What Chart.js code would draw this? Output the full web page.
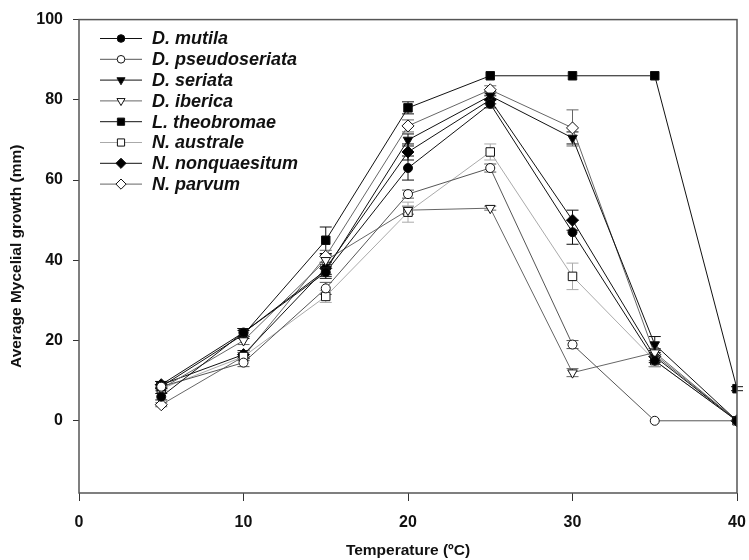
<!DOCTYPE html>
<html>
<head>
<meta charset="utf-8">
<script src="https://cdn.jsdelivr.net/npm/chart.js@4/dist/chart.umd.min.js"></script>
<style>
  html, body { margin: 0; padding: 0; background: #fff; }
  #wrap { width: 749px; height: 560px; }
</style>
</head>
<body>
<div id="wrap"><canvas id="chart" width="749" height="560"></canvas></div>
<script>
// Temperatures (ºC) at which growth was measured
const temps = [5, 10, 15, 20, 25, 30, 35, 40];

// Mean mycelial growth (mm) per isolate
const dMutila = [6, 22, 37, 63, 79, 47, 15, 0];
const dPseudoseriata = [8.5, 14.5, 33, 56.5, 63, 19, 0, 0];
const dSeriata = [9, 22, 37.5, 70, 81, 70.5, 19, 0];
const dIberica = [8, 20, 40, 52.5, 53, 12, 17, 0];
const lTheobromae = [8.5, 21.5, 45, 78, 86, 86, 86, 8];
const nAustrale = [8, 16, 31, 52, 67, 36, 15, 0];
const nNonquaesitum = [9, 16.5, 38, 67, 80, 50, 16, 0];
const nParvum = [4, 16, 41, 73.5, 82.5, 73, 16.5, 0];

// Standard errors
const errMutila = [0.8, 1, 1.5, 3, 1, 3, 1.5, 0];
const errPseudoseriata = [0.5, 1, 1.5, 1, 1, 1, 0, 0];
const errSeriata = [0.8, 1, 1.5, 1.5, 1, 1.5, 2, 0];
const errIberica = [0.5, 1, 1.5, 1, 0.5, 1, 1, 0];
const errTheobromae = [0.5, 1, 3.3, 1.5, 0, 0, 0, 0.5];
const errAustrale = [0.5, 1, 1.5, 2.5, 2, 3.3, 1.5, 0];
const errNonquaesitum = [0.8, 1, 1.5, 2, 1, 2.5, 1.5, 0];
const errParvum = [0.5, 1, 1.5, 1.5, 1, 4.5, 1.5, 0];

const labels = ['D. mutila', 'D. pseudoseriata', 'D. seriata', 'D. iberica',
  'L. theobromae', 'N. australe', 'N. nonquaesitum', 'N. parvum'];

const xTicks = [0, 10, 20, 30, 40];
const yTicks = [0, 20, 40, 60, 80, 100];

function series(label, values, errors, style) {
  return {
    label: label,
    data: temps.map((t, i) => ({ x: t, y: values[i] })),
    errors: errors,
    borderColor: style.line,
    borderWidth: 1,
    pointStyle: style.shape,
    rotation: style.rotation || 0,
    pointRadius: style.radius,
    pointBackgroundColor: style.fill,
    pointBorderColor: '#111',
    pointBorderWidth: 1,
    tension: 0,
    fill: false
  };
}

const datasets = [
  series(labels[0], dMutila, errMutila, { line: '#111', shape: 'circle', radius: 4.5, fill: '#000' }),
  series(labels[1], dPseudoseriata, errPseudoseriata, { line: '#555', shape: 'circle', radius: 4.5, fill: '#fff' }),
  series(labels[2], dSeriata, errSeriata, { line: '#111', shape: 'triangle', rotation: 180, radius: 5.5, fill: '#000' }),
  series(labels[3], dIberica, errIberica, { line: '#666', shape: 'triangle', rotation: 180, radius: 5.5, fill: '#fff' }),
  series(labels[4], lTheobromae, errTheobromae, { line: '#111', shape: 'rect', radius: 6, fill: '#000' }),
  series(labels[5], nAustrale, errAustrale, { line: '#aaa', shape: 'rect', radius: 6, fill: '#fff' }),
  series(labels[6], nNonquaesitum, errNonquaesitum, { line: '#111', shape: 'rectRot', radius: 6, fill: '#000' }),
  series(labels[7], nParvum, errParvum, { line: '#666', shape: 'rectRot', radius: 6, fill: '#fff' })
];

// vertical error bars with caps, drawn under the markers
const errorBars = {
  id: 'errorBars',
  beforeDatasetsDraw(chart) {
    const ctx = chart.ctx;
    const xs = chart.scales.x, ys = chart.scales.y;
    ctx.save();
    ctx.lineWidth = 1;
    chart.data.datasets.forEach(ds => {
      ctx.strokeStyle = ds.borderColor;
      ds.data.forEach((p, i) => {
        const e = ds.errors[i];
        if (!e) return;
        const px = xs.getPixelForValue(p.x);
        const top = ys.getPixelForValue(p.y + e);
        const bot = ys.getPixelForValue(p.y - e);
        ctx.beginPath();
        ctx.moveTo(px, top); ctx.lineTo(px, bot);
        ctx.moveTo(px - 6, top); ctx.lineTo(px + 6, top);
        ctx.moveTo(px - 6, bot); ctx.lineTo(px + 6, bot);
        ctx.stroke();
      });
    });
    ctx.restore();
  }
};

// box round the plot area
const frame = {
  id: 'frame',
  afterDraw(chart) {
    const { ctx, chartArea: a } = chart;
    ctx.save();
    ctx.strokeStyle = '#555';
    ctx.lineWidth = 1.5;
    ctx.strokeRect(a.left, a.top, a.right - a.left, a.bottom - a.top);
    ctx.restore();
  }
};

// legend inside the plot: line sample with marker, italic names
const innerLegend = {
  id: 'innerLegend',
  afterDraw(chart) {
    const ctx = chart.ctx;
    const x0 = 100, x1 = 142, tx = 152, y0 = 38.5, step = 20.8;
    ctx.save();
    ctx.font = 'italic bold 18px "Liberation Sans", Arial, sans-serif';
    ctx.textBaseline = 'middle';
    chart.data.datasets.forEach((ds, i) => {
      const y = y0 + i * step;
      ctx.strokeStyle = ds.borderColor;
      ctx.lineWidth = 1;
      ctx.beginPath();
      ctx.moveTo(x0, y); ctx.lineTo(x1, y);
      ctx.stroke();
      ctx.fillStyle = ds.pointBackgroundColor;
      ctx.strokeStyle = ds.pointBorderColor;
      Chart.helpers.drawPoint(ctx, {
        pointStyle: ds.pointStyle,
        rotation: ds.rotation,
        radius: ds.pointRadius * 0.85,
        borderWidth: 1
      }, (x0 + x1) / 2, y);
      ctx.fillStyle = '#111';
      ctx.fillText(ds.label, tx, y + 1);
    });
    ctx.restore();
  }
};

const tickFont = { family: '"Liberation Sans", Arial, sans-serif', size: 16, weight: 'bold' };
const titleFont = { family: '"Liberation Sans", Arial, sans-serif', size: 15.5, weight: 'bold' };

new Chart(document.getElementById('chart'), {
  type: 'line',
  data: { datasets: datasets },
  options: {
    responsive: false,
    animation: false,
    layout: { padding: { top: 18, right: 0, left: 0, bottom: 0 } },
    plugins: {
      legend: { display: false },
      tooltip: { enabled: false }
    },
    scales: {
      x: {
        type: 'linear',
        min: 0,
        max: 40,
        afterBuildTicks: s => { s.ticks = xTicks.map(v => ({ value: v })); },
        afterFit: s => { s.height = 67; s.paddingLeft = 0; s.paddingRight = 12; },
        grid: { display: true, drawOnChartArea: false, tickLength: 8, color: '#333' },
        border: { display: false },
        ticks: { color: '#111', font: tickFont, padding: 12, maxRotation: 0 },
        title: { display: true, text: 'Temperature (ºC)', color: '#111', font: titleFont, padding: { top: 0, bottom: 0 } }
      },
      y: {
        min: -18,
        max: 100,
        afterBuildTicks: s => { s.ticks = yTicks.map(v => ({ value: v })); },
        afterFit: s => { s.width = 79; },
        grid: { display: true, drawOnChartArea: false, tickLength: 6, color: '#333' },
        border: { display: false },
        ticks: { color: '#111', font: tickFont, padding: 10 },
        title: { display: true, text: 'Average Mycelial growth (mm)', color: '#111', font: titleFont, padding: { top: 7, bottom: 0 } }
      }
    }
  },
  plugins: [errorBars, frame, innerLegend]
});
</script>
</body>
</html>
